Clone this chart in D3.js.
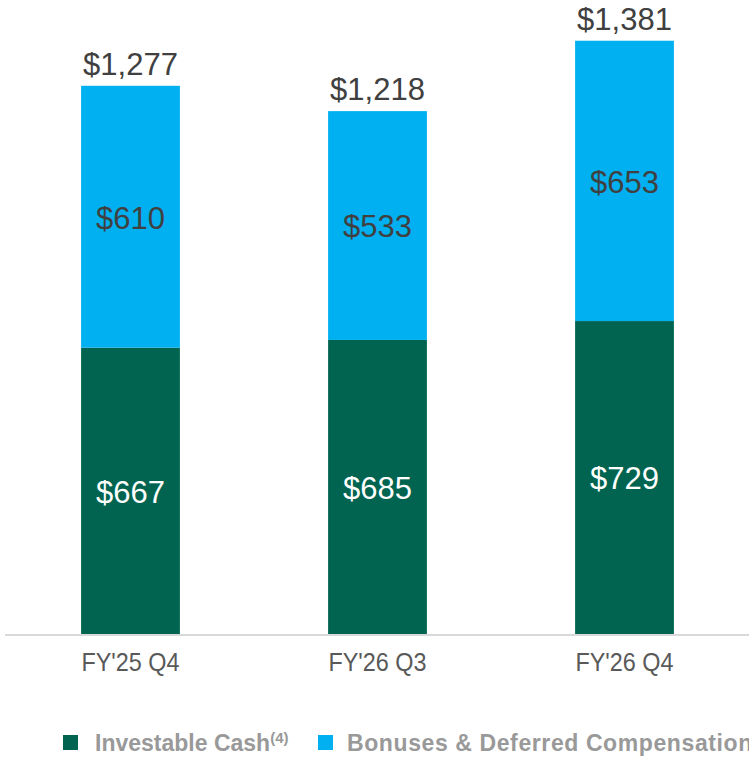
<!DOCTYPE html>
<html>
<head>
<meta charset="utf-8">
<script src="https://cdn.jsdelivr.net/npm/d3@7"></script>
<style>
  body { margin: 0; background: #fff; }
  svg { display: block; font-family: "Liberation Sans", Arial, sans-serif; }
</style>
</head>
<body>
<div id="chart"></div>
<script>
// data
var periods = ["FY'25 Q4", "FY'26 Q3", "FY'26 Q4"];
var investableCash = [667, 685, 729];
var bonusesDeferred = [610, 533, 653];
var totals = [1277, 1218, 1381];
var seriesNames = ["Investable Cash", "Bonuses & Deferred Compensation"];
var seriesColors = ["#006450", "#00b0f0"];

var svg = d3.select("#chart")
    .append("svg")
    .attr("width", 749)
    .attr("height", 757);

var baseY = 634;

var x = d3.scaleBand()
    .domain(periods)
    .range([7, 748])
    .paddingInner(0.6)
    .paddingOuter(0.3);

var y = d3.scaleLinear()
    .domain([0, 1400])
    .range([baseY, 33]);

var rows = periods.map(function(p, i) {
    return {period: p, cash: investableCash[i], bonus: bonusesDeferred[i], total: totals[i]};
});

var stack = d3.stack().keys(["cash", "bonus"]);
var layers = stack(rows);

var fmt = function(v) { return "$" + d3.format(",")(v); };

// bars
var layer = svg.append("g")
    .selectAll("g")
    .data(layers)
    .enter().append("g")
    .attr("fill", function(d, i) { return seriesColors[i]; });

layer.selectAll("rect")
    .data(function(d) { return d; })
    .enter().append("rect")
    .attr("x", function(d) { return x(d.data.period); })
    .attr("y", function(d) { return y(d[1]); })
    .attr("width", x.bandwidth())
    .attr("height", function(d) { return y(d[0]) - y(d[1]); });

// segment labels
layer.selectAll("text")
    .data(function(d) { return d.map(function(s) { s.key = d.key; return s; }); })
    .enter().append("text")
    .attr("x", function(d) { return x(d.data.period) + x.bandwidth() / 2; })
    .attr("y", function(d) { return (y(d[0]) + y(d[1])) / 2; })
    .attr("dy", "0.38em")
    .attr("text-anchor", "middle")
    .attr("font-size", 31)
    .attr("fill", function(d) { return d.key === "cash" ? "#ffffff" : "#404040"; })
    .text(function(d) { return fmt(d.data[d.key]); });

// totals
svg.append("g")
    .selectAll("text")
    .data(rows)
    .enter().append("text")
    .attr("x", function(d) { return x(d.period) + x.bandwidth() / 2; })
    .attr("y", function(d) { return y(d.total) - 11; })
    .attr("text-anchor", "middle")
    .attr("font-size", 31)
    .attr("fill", "#404040")
    .text(function(d) { return fmt(d.total); });

// x axis
var xAxis = svg.append("g")
    .attr("transform", "translate(0," + (baseY + 1) + ")")
    .call(d3.axisBottom(x).tickSize(0).tickPadding(18));

xAxis.select(".domain")
    .attr("d", "M5,0H749")
    .attr("stroke", "#d9d9d9")
    .attr("stroke-width", 2);

xAxis.selectAll(".tick text")
    .attr("font-family", "Liberation Sans, Arial, sans-serif")
    .attr("font-size", 26)
    .attr("transform", "scale(0.9,1)")
    .attr("fill", "#595959");

// legend
var legend = svg.append("g").attr("transform", "translate(0,735)");
var legendX = [63, 318];

seriesNames.forEach(function(name, i) {
    var item = legend.append("g").attr("transform", "translate(" + legendX[i] + ",0)");
    item.append("rect")
        .attr("width", 15)
        .attr("height", 15)
        .attr("fill", seriesColors[i]);
    var t = item.append("text")
        .attr("x", i === 0 ? 32 : 29)
        .attr("y", 16)
        .attr("font-size", 23)
        .attr("font-weight", "bold")
        .attr("letter-spacing", i === 0 ? 0 : 0.6)
        .attr("fill", "#999999")
        .text(name);
    if (i === 0) {
        t.append("tspan")
            .attr("dy", -8)
            .attr("font-size", 15)
            .text("(4)");
    }
});
</script>
</body>
</html>
